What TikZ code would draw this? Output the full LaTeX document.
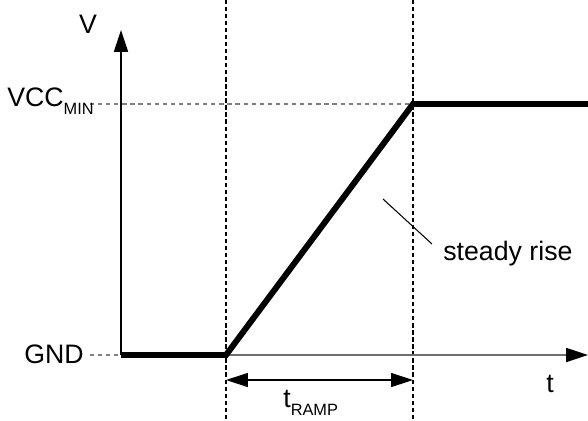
\documentclass[tikz,border=0pt]{standalone}
\usepackage{fontspec}
\setmainfont{Liberation Sans}
\usetikzlibrary{arrows.meta,positioning}
\definecolor{GuideGray}{HTML}{808080}
\definecolor{AxisGray}{HTML}{6E6E6E}
\tikzset{
  ax/.style={line width=0.85pt,-{Triangle[length=12.5pt,width=8pt,color=black]}},
  sig/.style={line width=3.4pt,line join=miter},
  vguide/.style={line width=0.6pt,dash pattern=on 2.4pt off 1.6pt},
  hguide/.style={line width=0.6pt,GuideGray,dash pattern=on 2.4pt off 2.2pt},
  dimarr/.style={line width=0.6pt,{Triangle[length=12.5pt,width=8pt]}-{Triangle[length=12.5pt,width=8pt]}},
  LB/.style={inner sep=0pt,font=\fontsize{15.2}{17}\selectfont}
}
\newcommand{\lowsub}[1]{\raisebox{-5pt}{\fontsize{9.3}{9}\selectfont#1}}
\begin{document}
\begin{tikzpicture}[x=0.02cm,y=-0.02cm]
  \useasboundingbox (0,0) rectangle (588,420);
  \coordinate (org) at (121,355);
  \coordinate (ytop) at (121,30);
  \coordinate (start) at (226,355);
  \coordinate (reach) at (413,104);
  \coordinate (xend) at (588,355);
  \coordinate (hiend) at (588,104);
  \coordinate (s0) at (226,0);
  \coordinate (s1) at (226,420);
  \coordinate (r0) at (413,0);
  \coordinate (r1) at (413,420);
  \coordinate (vccl) at (90,104);
  \coordinate (gndl) at (90,355);
  \coordinate (da) at (226,380);
  \coordinate (db) at (413,380);
  \coordinate (lead0) at (383,199);
  \coordinate (lead1) at (432,244);

  \draw[vguide] (s0)--(s1);
  \draw[vguide] (r0)--(r1);
  \draw[hguide] (vccl)--(reach);
  \draw[hguide] (gndl)--(org);
  \draw[ax] (org)--(ytop);
  \draw[ax,AxisGray] (start)--(xend);
  \draw[sig] (org)--(start)--(reach)--(hiend);
  \draw[dimarr] (da)--(db);
  \draw[line width=0.6pt] (lead0)--(lead1);

  \node[LB,anchor=base] (vlbl) at (88,33) {V};
  \node[LB,anchor=base east] (vcc) at (94,106) {VCC\lowsub{MIN}};
  \node[LB,anchor=base east] (gnd) at (84,363) {GND};
  \node[LB,anchor=base west] (tlbl) at (546,392) {t};
  \node[LB,anchor=base west] (tramp) at (283,407) {t\lowsub{RAMP}};
  \node[LB,anchor=base west] (rise) at (443,260) {steady rise};
\end{tikzpicture}
\end{document}
